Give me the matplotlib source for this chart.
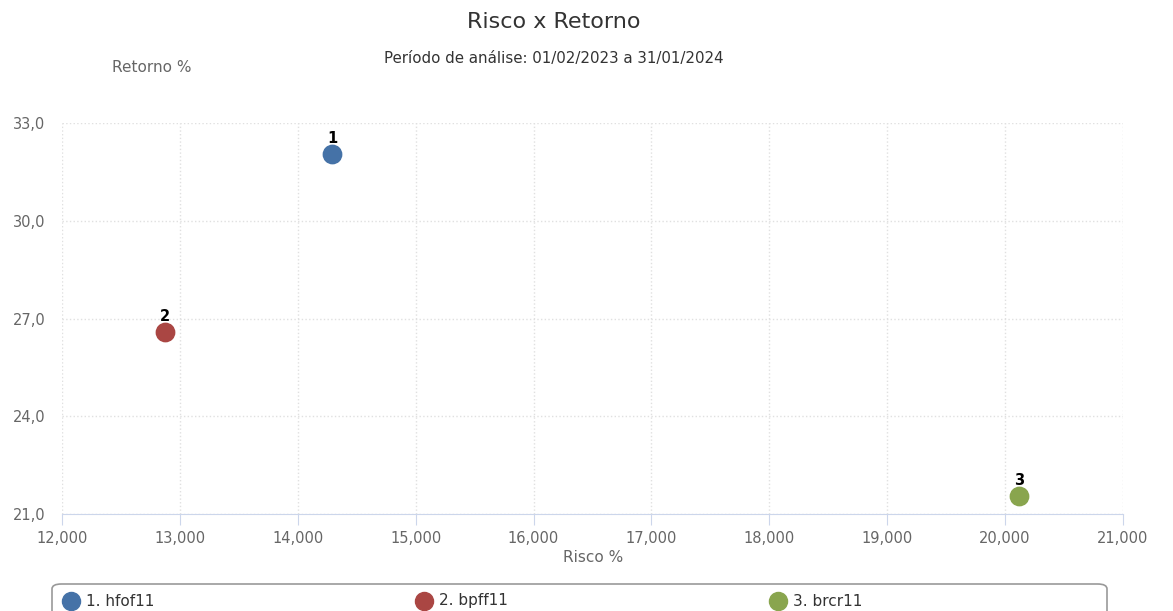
import matplotlib
matplotlib.use("Agg")
import matplotlib.pyplot as plt
from matplotlib.patches import FancyBboxPatch
from matplotlib.lines import Line2D

# data
labels = ["1", "2", "3"]
names = ["1. hfof11", "2. bpff11", "3. brcr11"]
risco = [14.29, 12.87, 20.12]
retorno = [32.05, 26.59, 21.56]
colors = ["#4572A7", "#AA4643", "#89A54E"]

xticks = [12, 13, 14, 15, 16, 17, 18, 19, 20, 21]
xticklabels = ["12,000", "13,000", "14,000", "15,000", "16,000",
               "17,000", "18,000", "19,000", "20,000", "21,000"]
yticks = [21, 24, 27, 30, 33]
yticklabels = ["21,0", "24,0", "27,0", "30,0", "33,0"]

plt.rcParams['font.family'] = ['DejaVu Sans']

W, H = 1173, 611
fig = plt.figure(figsize=(W / 100, H / 100), dpi=100)
ax = fig.add_axes([62 / W, 1 - 514 / H, (1123 - 62) / W, (514 - 123) / H])

for x, y, c, lab in zip(risco, retorno, colors, labels):
    ax.scatter(x, y, s=175, color=c, zorder=3, clip_on=False)
    ax.annotate(lab, (x, y), xytext=(0, 5.5), textcoords="offset points",
                ha="center", va="bottom", fontsize=10.5, fontweight="bold",
                color="black")

ax.set_xlim(12, 21)
ax.set_ylim(21, 33)
ax.set_xticks(xticks)
ax.set_xticklabels(xticklabels)
ax.set_yticks(yticks)
ax.set_yticklabels(yticklabels)

ax.grid(True, color="#e0e0e0", linestyle=":", linewidth=1)
ax.set_axisbelow(True)
for s in ["top", "left", "right"]:
    ax.spines[s].set_visible(False)
ax.spines["bottom"].set_color("#ccd6eb")
ax.tick_params(axis="x", colors="#ccd6eb", length=8, labelcolor="#666666",
               labelsize=10.5, pad=4)
ax.tick_params(axis="y", length=0, labelcolor="#666666", labelsize=10.5, pad=12)

# titles
fig.text(554 / W, 1 - 22 / H, "Risco x Retorno", ha="center", va="center",
         fontsize=16, color="#333333")
fig.text(554 / W, 1 - 58 / H, "Período de análise: 01/02/2023 a 31/01/2024",
         ha="center", va="center", fontsize=10.8, color="#333333")
fig.text(152 / W, 1 - 67 / H, "Retorno %", ha="center", va="center",
         fontsize=11, color="#666666")
fig.text(593 / W, 1 - 558 / H, "Risco %", ha="center", va="center",
         fontsize=11, color="#666666")

# legend box at the bottom (cut off by the figure edge)
box = FancyBboxPatch((52 / W, 1 - 630 / H), (1107 - 52) / W, 46 / H,
                     boxstyle="round,pad=0,rounding_size=0.008",
                     transform=fig.transFigure, facecolor="white",
                     edgecolor="#999999", linewidth=1.2)
fig.add_artist(box)
leg_x = [71, 424, 778]
for lx, c, n in zip(leg_x, colors, names):
    fig.add_artist(Line2D([lx / W], [1 - 601 / H], marker="o", markersize=13,
                          color=c, linestyle="none",
                          transform=fig.transFigure))
    fig.text((lx + 15) / W, 1 - 601 / H, n, ha="left", va="center",
             fontsize=11, color="#333333")

fig.savefig("out.png", dpi=100)
